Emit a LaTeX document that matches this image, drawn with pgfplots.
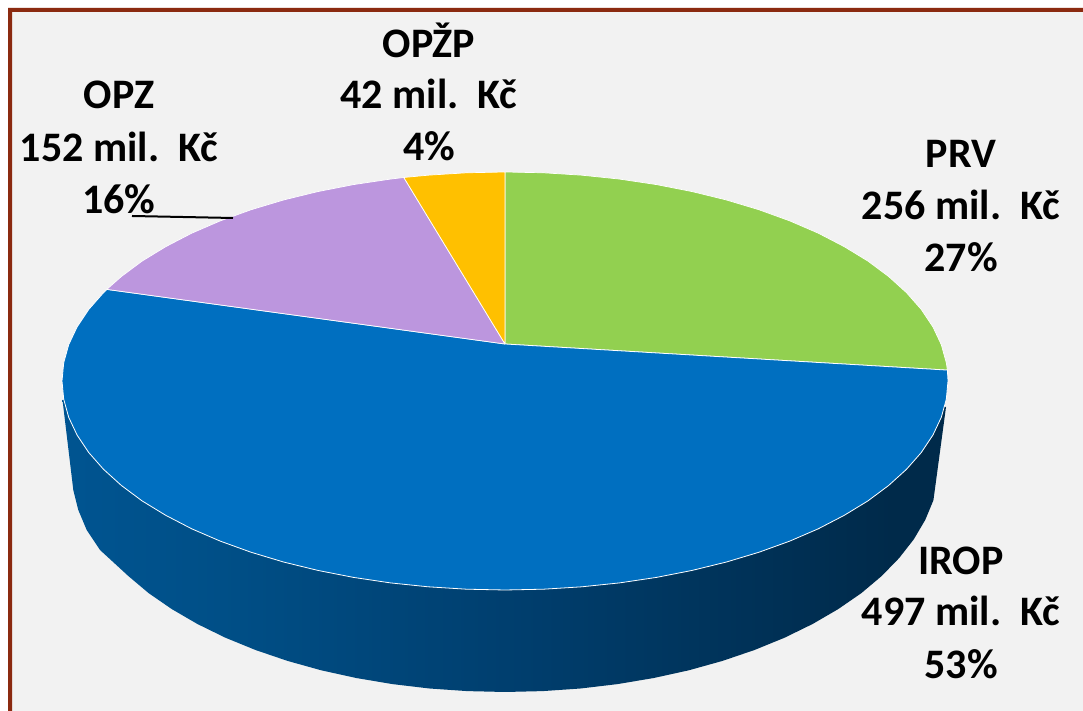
\documentclass[border=0pt]{standalone}
\usepackage{pgfplots}
\pgfplotsset{compat=1.18}
\usepackage{fontspec}
\setmainfont{Carlito}
\definecolor{frame}{HTML}{8B2A10}
\definecolor{bg}{HTML}{F2F2F2}
\definecolor{cblue}{HTML}{006FC0}
\definecolor{cgreen}{HTML}{92D050}
\definecolor{cpurple}{HTML}{BC96DE}
\definecolor{cyellow}{HTML}{FFC000}
\definecolor{s0}{HTML}{0068B0}
\definecolor{s1}{HTML}{005A9C}
\definecolor{s2}{HTML}{004F87}
\definecolor{s3}{HTML}{003F6F}
\definecolor{s4}{HTML}{002A4A}
\pgfdeclarehorizontalshading{pieside}{100bp}{color(0bp)=(s0); color(15bp)=(s1); color(34bp)=(s2); color(50bp)=(s3); color(72bp)=(s4); color(100bp)=(s4)}
\newcommand{\lab}[1]{{\fontsize{42}{42}\selectfont\bfseries #1}}
\begin{document}
\begin{tikzpicture}
\begin{axis}[
  at={(0pt,0pt)}, anchor=south west,
  scale only axis, width=1083pt, height=711pt,
  xmin=0, xmax=1083, ymin=0, ymax=711,
  axis lines=none, clip=true,
]
% page
\addplot[fill=white, draw=none] coordinates {(0,0) (1083,0) (1083,711) (0,711) (0,0)};
\addplot[fill=bg, draw=none] coordinates {(8,0) (1083,0) (1083,703) (8,703) (8,0)};
% frame
\addplot[fill=frame, draw=none] coordinates {(8,0) (12,0) (12,699) (1083,699) (1083,703) (8,703) (8,0)};
% side wall
\addplot[shade, shading=pieside, draw=none] coordinates {
(946,304) (933.4,210.7) (925.2,191.0) (913.8,171.7) (899.2,153.0) (881.7,135) (861.4,117.9) (838.2,101.9) (812.6,87) (784.6,73.3) (754.5,61) (722.5,50.1) (688.8,40.7) (653.8,33) (617.6,26.9) (580.5,22.5) (542.9,19.9) (505,19)
(467.1,19.9) (429.5,22.5) (392.4,26.9) (356.2,33) (321.2,40.7) (287.5,50.1) (255.5,61) (225.4,73.3) (197.4,87) (171.8,101.9) (148.6,117.9) (128.3,135) (112,150) (100,161) (86.7,181) (78.3,201) (73.3,221) (62.5,311) (505,330) (946,304)};
% PRV
\addplot[fill=cgreen, draw=white, line width=0.7pt, line join=round] coordinates {
(505,367) (505,539) (543.6,538.2) (581.9,535.8) (619.6,531.9) (656.5,526.4) (692.2,519.4) (726.5,511.0) (759.1,501.2) (789.8,490.1) (818.3,477.8) (844.3,464.3) (867.9,449.9) (888.6,434.5) (906.5,418.3) (921.3,401.5) (932.9,384.1) (941.3,366.3) (946.3,348.2) (947.4,340.9) (505,367)};
% IROP
\addplot[fill=cblue, draw=white, line width=0.8pt, line join=round] coordinates {
(505,367) (947.4,340.9) (948,330) (946.3,311.8) (941.3,293.7) (932.9,275.9) (921.3,258.5) (906.5,241.7) (888.6,225.5) (867.9,210.1) (844.3,195.7) (818.3,182.2) (789.8,169.9) (759.1,158.8) (726.5,149) (692.2,140.6) (656.5,133.6) (619.6,128.1) (581.9,124.2) (543.6,121.8) (505,121) (466.4,121.8) (428.1,124.2) (390.4,128.1) (353.5,133.6) (317.8,140.6) (283.5,149) (250.9,158.8) (220.2,169.9) (191.7,182.2) (165.7,195.7) (142.1,210.1) (121.4,225.5) (103.5,241.7) (88.7,258.5) (77.1,275.9) (68.7,293.7) (63.7,311.8) (62,330) (63.7,348.2) (68.7,366.3) (77.1,384.1) (88.7,401.5) (103.5,418.3) (106.8,421.6) (505,367)};
% OPZ
\addplot[fill=cpurple, draw=white, line width=0.7pt, line join=round] coordinates {
(505,367) (106.8,421.6) (121.4,434.5) (142.1,449.9) (165.7,464.3) (191.7,477.8) (220.2,490.1) (250.9,501.2) (283.5,511.0) (317.8,519.4) (353.5,526.4) (390.4,531.9) (403.8,533.5) (505,367)};
% OPZP
\addplot[fill=cyellow, draw=white, line width=0.7pt, line join=round] coordinates {
(505,367) (403.8,533.5) (428.1,535.8) (466.4,538.2) (505,539) (505,367)};
% labels
\node[anchor=base, inner sep=0pt] at (axis cs:119,602) {\lab{OPZ}};
\node[anchor=base, inner sep=0pt] at (axis cs:119,549) {\lab{152 mil.\ \ Kč}};
\node[anchor=base, inner sep=0pt] at (axis cs:119,497) {\lab{16\%}};
\node[anchor=base, inner sep=0pt] at (axis cs:429,653) {\lab{OPŽP}};
\node[anchor=base, inner sep=0pt] at (axis cs:429,602) {\lab{42 mil.\ \ Kč}};
\node[anchor=base, inner sep=0pt] at (axis cs:429,550) {\lab{4\%}};
\node[anchor=base, inner sep=0pt] at (axis cs:961,543) {\lab{PRV}};
\node[anchor=base, inner sep=0pt] at (axis cs:961,491) {\lab{256 mil.\ \ Kč}};
\node[anchor=base, inner sep=0pt] at (axis cs:961,439) {\lab{27\%}};
\node[anchor=base, inner sep=0pt] at (axis cs:961,136) {\lab{IROP}};
\node[anchor=base, inner sep=0pt] at (axis cs:961,85) {\lab{497 mil.\ \ Kč}};
\node[anchor=base, inner sep=0pt] at (axis cs:961,32) {\lab{53\%}};
% leader
\addplot[black, line width=2pt] coordinates {(132,495) (233,493)};
\end{axis}
\end{tikzpicture}
\end{document}
